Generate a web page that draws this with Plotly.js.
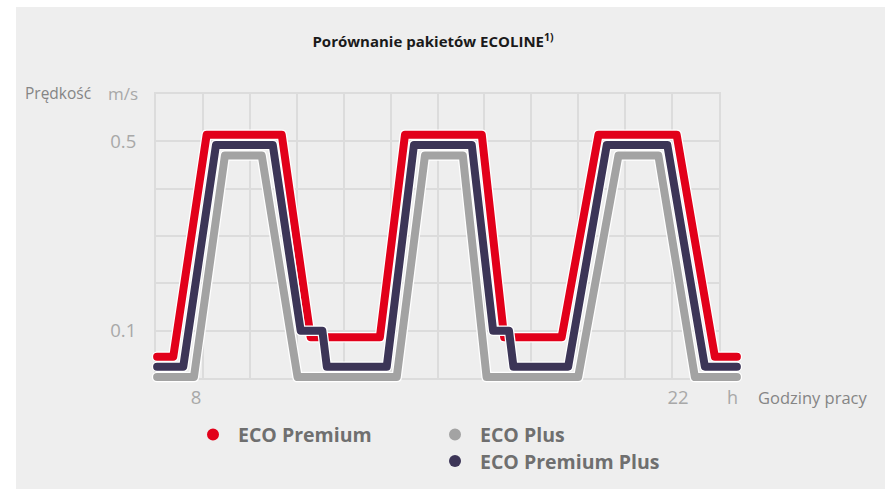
<!DOCTYPE html>
<html>
<head>
<meta charset="utf-8">
<script src="https://cdn.plot.ly/plotly-3.0.1.min.js"></script>
<style>
  html, body { margin: 0; padding: 0; background: #ffffff; width: 885px; height: 489px; overflow: hidden; }
  #chart { position: absolute; left: 16px; top: 7px; width: 869px; height: 482px; }
  .scatterlayer .js-line { stroke-linecap: round !important; stroke-linejoin: round !important; }
</style>
</head>
<body>
<div id="chart"></div>
<script>
// ---------- data ----------
const chartTitle = 'Porównanie pakietów ECOLINE';
const titleNote = '1)';
const yAxisName = 'Prędkość';
const yAxisUnit = 'm/s';
const xAxisName = 'Godziny pracy';
const xAxisUnit = 'h';

const xTickVals = [8, 22];
const xTickText = ['8', '22'];
const yTickVals = [0.1, 0.5];
const yTickText = ['0.1', '0.5'];

const seriesNames = ['ECO Plus', 'ECO Premium', 'ECO Premium Plus'];
const seriesColors = ['#a3a3a3', '#e2001a', '#3c3557'];

// hours
const plusX = [6.87, 7.94, 8.84, 9.91, 10.95, 13.83, 14.65, 15.75, 16.44, 19.10, 20.27, 21.43, 22.49, 23.71];
const plusY = [0.002, 0.002, 0.47, 0.47, 0.002, 0.002, 0.47, 0.47, 0.002, 0.002, 0.47, 0.47, 0.002, 0.002];

const premiumX = [6.87, 7.34, 8.31, 10.49, 11.33, 13.34, 14.07, 16.30, 16.95, 18.62, 19.69, 21.96, 23.07, 23.71];
const premiumY = [0.045, 0.045, 0.514, 0.514, 0.086, 0.086, 0.514, 0.514, 0.086, 0.086, 0.514, 0.514, 0.045, 0.045];

const premiumPlusX = [6.87, 7.63, 8.58, 10.23, 11.04, 11.67, 11.80, 13.54, 14.33, 16.01, 16.63, 17.09, 17.22, 18.81, 19.93, 21.69, 22.78, 23.71];
const premiumPlusY = [0.024, 0.024, 0.492, 0.492, 0.1, 0.1, 0.024, 0.024, 0.492, 0.492, 0.1, 0.1, 0.024, 0.024, 0.492, 0.492, 0.024, 0.024];

const seriesX = [plusX, premiumX, premiumPlusX];
const seriesY = [plusY, premiumY, premiumPlusY];

// legend layout: [column, row] per series
const legendSlots = [[1, 0], [0, 0], [1, 1]];

// ---------- layout geometry (page pixels) ----------
const DIV_L = 16, DIV_T = 7, DIV_W = 869, DIV_H = 482;
const fx = px => (px - DIV_L) / DIV_W;
const fy = py => 1 - (py - DIV_T) / DIV_H;

// scale: hour 8 at px 196, 34.43 px per hour; speed 0 at py 378, 473.33 px per m/s
const PX_PER_H = 34.43, H_REF = 8, PX_REF = 196;
const PY_ZERO = 378, PY_PER_UNIT = 473.33;
const hAt = px => H_REF + (px - PX_REF) / PX_PER_H;
const vAt = py => (PY_ZERO - py) / PY_PER_UNIT;

const GRID_L = 156, GRID_R = 719, GRID_T = 94, GRID_B = 378, GRID_COLS = 12;
const DATA_L = 146, DATA_R = 752, DATA_T = 88, DATA_B = 384;

const FONT = '"Open Sans", "Noto Sans", sans-serif';
const GRID_COLOR = '#dcdcdc';

// ---------- traces ----------
const traces = [];
// grid panel (xy) carries an invisible copy of the first series so the panel is drawn
traces.push({
  x: seriesX[0], y: seriesY[0], type: 'scatter', mode: 'lines', opacity: 0,
  line: { color: seriesColors[0], width: 1 }, hoverinfo: 'skip', showlegend: false,
  xaxis: 'x', yaxis: 'y'
});
for (let i = 0; i < seriesNames.length; i++) {
  traces.push({
    x: seriesX[i], y: seriesY[i], type: 'scatter', mode: 'lines',
    line: { color: '#ffffff', width: 10.5 }, hoverinfo: 'skip', showlegend: false,
    xaxis: 'x2', yaxis: 'y2'
  });
  traces.push({
    x: seriesX[i], y: seriesY[i], type: 'scatter', mode: 'lines', name: seriesNames[i],
    line: { color: seriesColors[i], width: 8 }, showlegend: false,
    xaxis: 'x2', yaxis: 'y2'
  });
}

// ---------- annotations / legend ----------
const annotations = [
  { text: yAxisName, x: fx(93), y: fy(93), xanchor: 'right', yanchor: 'middle', font: { family: FONT, size: 15.5, color: '#858585' } },
  { text: yAxisUnit, x: fx(140), y: fy(93), xanchor: 'right', yanchor: 'middle', font: { family: FONT, size: 17, color: '#a8a8a8' } },
  { text: xAxisUnit, x: fx(732), y: fy(397), xanchor: 'center', yanchor: 'middle', font: { family: FONT, size: 18, color: '#a8a8a8' } },
  { text: xAxisName, x: fx(756), y: fy(397), xanchor: 'left', yanchor: 'middle', font: { family: FONT, size: 16.5, color: '#858585' } }
];
const shapes = [];
const LEG_COL_DOT = [213, 455], LEG_COL_TEXT = [236, 478], LEG_ROW_Y = [434.5, 461], DOT_R = 6;
for (let i = 0; i < seriesNames.length; i++) {
  const [c, r] = legendSlots[i];
  const cy = LEG_ROW_Y[r], cx = LEG_COL_DOT[c];
  shapes.push({
    type: 'circle', xref: 'paper', yref: 'paper',
    x0: fx(cx - DOT_R), x1: fx(cx + DOT_R), y0: fy(cy + DOT_R), y1: fy(cy - DOT_R),
    fillcolor: seriesColors[i], line: { width: 0 }
  });
  annotations.push({
    text: '<b>' + seriesNames[i] + '</b>', x: fx(LEG_COL_TEXT[c]), y: fy(cy), xanchor: 'left', yanchor: 'middle',
    font: { family: FONT, size: 19.5, color: '#6f6f6f' }
  });
}
annotations.forEach(a => { a.xref = 'paper'; a.yref = 'paper'; a.showarrow = false; });

const layout = {
  width: DIV_W, height: DIV_H, autosize: false,
  margin: { l: 0, r: 0, t: 0, b: 0, pad: 0 },
  paper_bgcolor: '#eeeeee', plot_bgcolor: 'rgba(0,0,0,0)',
  showlegend: false,
  title: {
    text: '<b>' + chartTitle + '<sup>' + titleNote + '</sup></b>',
    x: fx(433), xref: 'paper', xanchor: 'center',
    y: fy(42), yref: 'paper', yanchor: 'middle',
    font: { family: FONT, size: 15, color: '#1a1a1a' }
  },
  // grid panel
  xaxis: {
    domain: [fx(GRID_L), fx(GRID_R)], range: [hAt(GRID_L), hAt(GRID_R)],
    tickmode: 'linear', tick0: hAt(GRID_L), dtick: (GRID_R - GRID_L) / GRID_COLS / PX_PER_H,
    showgrid: true, gridcolor: GRID_COLOR, gridwidth: 2, zeroline: false,
    showline: true, mirror: true, linecolor: GRID_COLOR, linewidth: 2,
    showticklabels: false, ticks: '', anchor: 'y', fixedrange: true
  },
  yaxis: {
    domain: [fy(GRID_B), fy(GRID_T)], range: [vAt(GRID_B), vAt(GRID_T)],
    tickmode: 'array', tickvals: yTickVals, ticktext: yTickText,
    showgrid: true, gridcolor: GRID_COLOR, gridwidth: 2, zeroline: false,
    minor: { tickmode: 'linear', tick0: 0, dtick: 0.1, showgrid: true, gridcolor: GRID_COLOR, gridwidth: 2, ticks: '' },
    showline: true, mirror: true, linecolor: GRID_COLOR, linewidth: 2,
    ticks: '', ticklabelstandoff: 14, anchor: 'x', fixedrange: true,
    tickfont: { family: FONT, size: 18.5, color: '#a8a8a8' }
  },
  // data panel
  xaxis2: {
    domain: [fx(DATA_L), fx(DATA_R)], range: [hAt(DATA_L), hAt(DATA_R)],
    tickmode: 'array', tickvals: xTickVals, ticktext: xTickText,
    showgrid: false, zeroline: false, showline: false, ticks: '', anchor: 'y2',
    tickfont: { family: FONT, size: 18.5, color: '#a8a8a8' }, fixedrange: true
  },
  yaxis2: {
    domain: [fy(DATA_B), fy(DATA_T)], range: [vAt(DATA_B), vAt(DATA_T)],
    showgrid: false, zeroline: false, showline: false, showticklabels: false, ticks: '',
    anchor: 'x2', fixedrange: true
  },
  annotations: annotations,
  shapes: shapes
};

Plotly.newPlot('chart', traces, layout, { displayModeBar: false, staticPlot: true });
</script>
</body>
</html>
